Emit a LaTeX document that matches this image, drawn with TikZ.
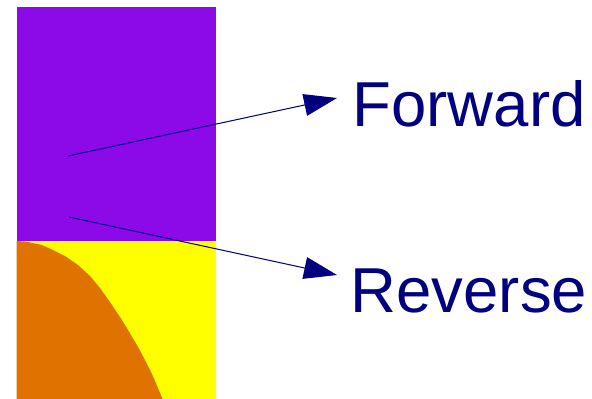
\documentclass[tikz,border=0pt]{standalone}
\usepackage{fontspec}
\setmainfont{Liberation Sans}
\usetikzlibrary{arrows.meta}
\definecolor{purp}{RGB}{141,10,232}
\definecolor{orng}{RGB}{224,115,0}
\definecolor{yell}{RGB}{255,255,0}
\definecolor{navyc}{RGB}{0,0,128}
\tikzset{
  arr/.style={draw=navyc, line width=1pt, -{Triangle[length=33pt,width=22pt]}, fill=navyc},
  lbl/.style={text=navyc, font=\fontsize{63.5}{63.5}\selectfont, inner sep=0pt, anchor=base west}
}
\begin{document}
\begin{tikzpicture}[x=1pt,y=-1pt]
\useasboundingbox (0,0) rectangle (592,399);
\fill[purp] (16.5,7) rectangle (216,240.5);
\fill[yell] (16.5,240.5) rectangle (216,399);
\fill[orng] (16.5,241) -- (25,241.5) -- (42,245) -- (53,250) -- (65,256) -- (78,265) -- (90,276) -- (100,288) -- (110,302) -- (120,317) -- (128,330) -- (137,345) -- (145,360) -- (152,374) -- (158,388) -- (162.5,399) -- (16.5,399) -- cycle;
\coordinate (f0) at (68,156);
\coordinate (f1) at (337,98);
\coordinate (r0) at (69,217);
\coordinate (r1) at (337,275);
\draw[arr] (f0) -- (f1);
\draw[arr] (r0) -- (r1);
\node[lbl] (fw) at (352.5,126) {Forward};
\node[lbl] (rv) at (350.5,312) {Reverse};
\end{tikzpicture}
\end{document}
